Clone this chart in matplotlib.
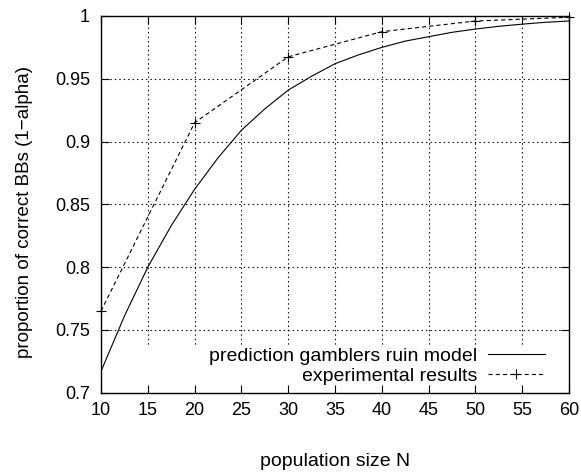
import matplotlib
matplotlib.use("Agg")
import matplotlib.pyplot as plt
from matplotlib.patches import Rectangle

# Data
model_N = [10, 12.5, 15, 17.5, 20, 22.5, 25, 27.5, 30, 32.5, 35, 37.5, 40,
           42.5, 45, 47.5, 50, 52.5, 55, 57.5, 60]
model_vals = [0.717, 0.761, 0.800, 0.833, 0.862, 0.887, 0.909, 0.926, 0.941,
              0.952, 0.962, 0.969, 0.975, 0.980, 0.9835, 0.987, 0.9896,
              0.9918, 0.9935, 0.995, 0.996]
exp_N = [10, 20, 30, 40, 50, 60]
exp_vals = [0.765, 0.915, 0.9675, 0.9875, 0.996, 0.999]

xticks = [10, 15, 20, 25, 30, 35, 40, 45, 50, 55, 60]
yticks = [0.7, 0.75, 0.8, 0.85, 0.9, 0.95, 1.0]
ytick_labels = ["0.7", "0.75", "0.8", "0.85", "0.9", "0.95", "1"]

plt.rcParams['font.family'] = ['Liberation Sans', 'DejaVu Sans']
plt.rcParams['lines.scale_dashes'] = False

W, H = 581, 472
fig = plt.figure(figsize=(W/100, H/100), dpi=100)
ax = fig.add_axes([101/W, 1-392.7/H, (569-101)/W, (392.7-16)/H])

ax.set_xlim(10, 60)
ax.set_ylim(0.7, 1.0)
ax.set_xticks(xticks)
ax.set_xticklabels([str(v) for v in xticks])
ax.set_yticks(yticks)
ax.set_yticklabels(ytick_labels)

# grid (dotted), drawn manually so edges are not duplicated
for x in xticks[1:-1]:
    ax.axvline(x, color='black', lw=0.8, linestyle=(0, (1, 2.2)), zorder=1)
for y in yticks[1:-1]:
    ax.axhline(y, color='black', lw=0.8, linestyle=(0, (1, 2.2)), zorder=1)

# key background (blanks grid)
ax.add_patch(Rectangle((0, 0), 1, (392.7-345)/376.7, transform=ax.transAxes,
                       facecolor='white', edgecolor='none', zorder=1.5))

ax.plot(model_N, model_vals, color='black', lw=0.8, zorder=3,
        label='prediction gamblers ruin model')
ax.plot(exp_N, exp_vals, color='black', lw=0.8, linestyle=(0, (3.0, 2.2)),
        marker='+', markersize=7, markeredgewidth=0.8, zorder=3,
        label='experimental results', clip_on=False)

ax.tick_params(axis='both', which='major', direction='in', length=5.5,
               width=0.8, top=True, right=True, labelsize=13, colors='black')
ax.tick_params(axis='x', pad=7)
ax.tick_params(axis='y', pad=8)
for s in ax.spines.values():
    s.set_linewidth(1.0)
    s.set_zorder(4)

fig.text(335/W, 1-462/H, 'population size N', fontsize=14,
         ha='center', va='center')
fig.text(25/W, 1-212/H, 'proportion of correct BBs (1\u2212alpha)', fontsize=13.5,
         ha='center', va='center', rotation=90)

leg = ax.legend(loc='center right',
                bbox_to_anchor=((545-101)/468, (392.7-366)/376.7),
                frameon=False, markerfirst=False, fontsize=14,
                handlelength=2.95, handletextpad=0.55, labelspacing=0.1,
                borderaxespad=0.0, borderpad=0.0)

fig.savefig('out.png', dpi=100)
